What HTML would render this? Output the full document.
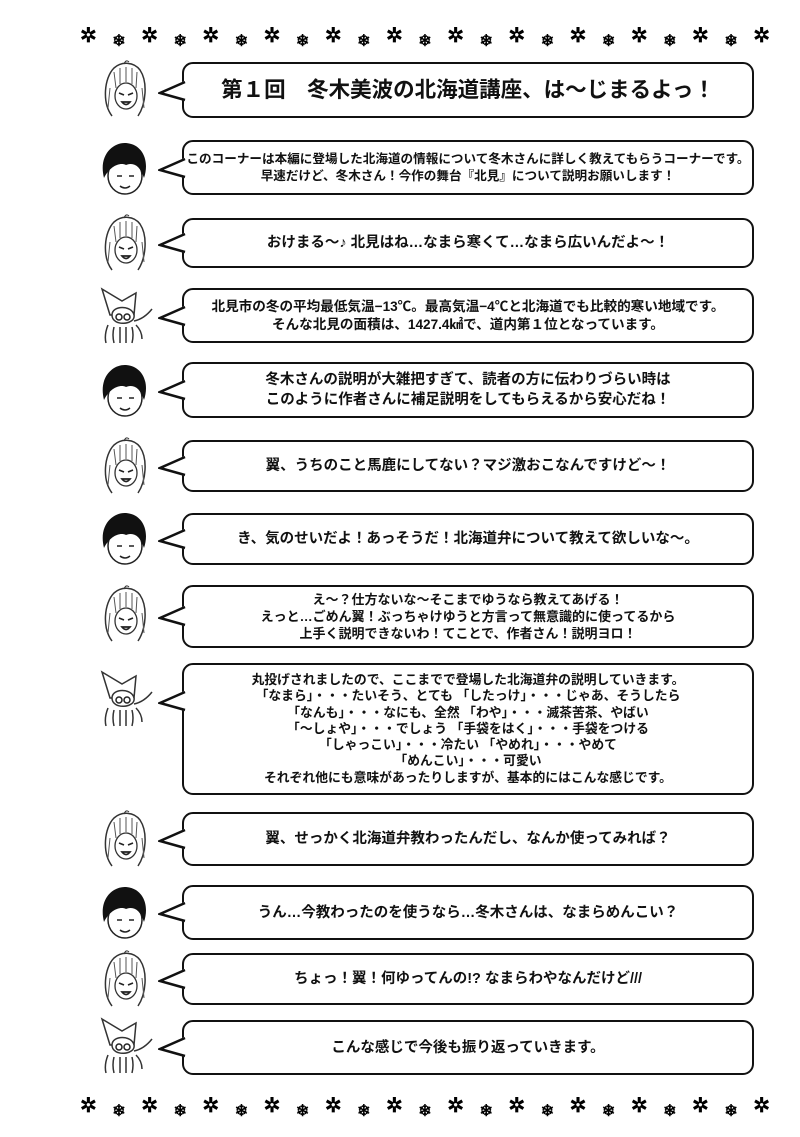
<!DOCTYPE html>
<html><head><meta charset="utf-8"><style>
body{margin:0;width:800px;height:1137px;background:#fff;position:relative;overflow:hidden;font-family:"Liberation Sans","Noto Sans CJK JP",sans-serif;color:#111}
.b{position:absolute;left:182px;width:572px;border:2.5px solid #111;border-radius:11px;background:#fff;box-sizing:border-box;display:flex;align-items:center;justify-content:center;text-align:center;font-weight:bold;font-size:14.5px;line-height:18px}
.t{position:absolute;left:158px;width:28px;height:24px}
.s{position:absolute;font-size:20px;line-height:20px;color:#000;font-weight:bold}
.s i{font-style:normal;font-size:16px;margin-top:6px}
.av{position:absolute;left:92px;width:64px;height:64px}
</style></head><body>
<svg width="0" height="0" style="position:absolute">
<defs>
<symbol id="girl" viewBox="0 0 64 64"><path d="M20 58 C10 45 12 20 22 10 C30 3 42 4 48 12 C56 24 54 46 46 58" fill="none" stroke="#333" stroke-width="1.5"/><path d="M22 14 L24 30 M28 10 L28 26 M34 9 L34 24 M40 10 L40 26 M45 14 L44 30 M18 30 L16 50 M50 30 L52 50" stroke="#555" stroke-width="1"/><ellipse cx="34" cy="38" rx="11" ry="13" fill="#fff" stroke="#333" stroke-width="1.3"/><path d="M27 35 l5 2 M41 35 l-5 2 M30 44 q4 5 8 0 z" stroke="#222" stroke-width="1.7" fill="none"/><path d="M32 6 q2 -5 5 -2" stroke="#333" fill="none"/></symbol>
<symbol id="boy" viewBox="0 0 64 64"><ellipse cx="33" cy="38" rx="17" ry="18" fill="#fff" stroke="#222" stroke-width="1.5"/><path d="M12 40 C6 16 22 4 34 5 C50 6 58 22 52 40 C48 28 42 24 34 27 C28 24 18 28 12 40Z" fill="#111"/><path d="M25 38 h5 M37 38 h5 M28 48 q5 4 10 0" stroke="#222" stroke-width="1.5" fill="none"/></symbol>
<symbol id="sq" viewBox="0 0 64 64"><path d="M18 30 L10 4 L30 16 L44 8 L42 30 Z" fill="#fff" stroke="#333" stroke-width="1.5"/><path d="M20 30 C20 20 40 20 42 30 C44 40 20 42 20 30Z" fill="#fff" stroke="#333" stroke-width="1.5"/><circle cx="27" cy="32" r="3" fill="none" stroke="#222" stroke-width="1.5"/><circle cx="35" cy="32" r="3" fill="none" stroke="#222" stroke-width="1.5"/><path d="M16 40 q-4 10 -2 18 M22 42 q-2 8 0 16 M28 42 v16 M34 42 v16 M40 42 q2 8 0 16 M44 40 q6 6 6 14 M42 36 q10 -2 18 -12" stroke="#333" stroke-width="1.5" fill="none"/></symbol>
<symbol id="tail" viewBox="0 0 28 24"><polygon points="26,2 2,14 26,22" fill="#fff"/><polyline points="27,3 2,14 27,21" fill="none" stroke="#111" stroke-width="2.5"/></symbol>
</defs></svg>

<div class="b" style="top:62px;height:56px;font-size:21.5px">第１回　冬木美波の北海道講座、は〜じまるよっ！</div>
<div class="b" style="top:140px;height:55px;font-size:12.6px;line-height:17px">このコーナーは本編に登場した北海道の情報について冬木さんに詳しく教えてもらうコーナーです。<br>早速だけど、冬木さん！今作の舞台『北見』について説明お願いします！</div>
<div class="b" style="top:218px;height:50px">おけまる〜♪ 北見はね…なまら寒くて…なまら広いんだよ〜！</div>
<div class="b" style="top:288px;height:55px;font-size:13.6px">北見市の冬の平均最低気温−13℃。最高気温−4℃と北海道でも比較的寒い地域です。<br>そんな北見の面積は、1427.4㎢で、道内第１位となっています。</div>
<div class="b" style="top:362px;height:56px;line-height:20px">冬木さんの説明が大雑把すぎて、読者の方に伝わりづらい時は<br>このように作者さんに補足説明をしてもらえるから安心だね！</div>
<div class="b" style="top:440px;height:52px">翼、うちのこと馬鹿にしてない？マジ激おこなんですけど〜！</div>
<div class="b" style="top:513px;height:52px">き、気のせいだよ！あっそうだ！北海道弁について教えて欲しいな〜。</div>
<div class="b" style="top:585px;height:63px;font-size:13px;line-height:17px">え〜？仕方ないな〜そこまでゆうなら教えてあげる！<br>えっと…ごめん翼！ぶっちゃけゆうと方言って無意識的に使ってるから<br>上手く説明できないわ！てことで、作者さん！説明ヨロ！</div>
<div class="b" style="top:663px;height:132px;font-size:12.8px;line-height:16.3px">丸投げされましたので、ここまでで登場した北海道弁の説明していきます。<br>「なまら」・・・たいそう、とても 「したっけ」・・・じゃあ、そうしたら<br>「なんも」・・・なにも、全然 「わや」・・・滅茶苦茶、やばい<br>「〜しょや」・・・でしょう 「手袋をはく」・・・手袋をつける<br>「しゃっこい」・・・冷たい 「やめれ」・・・やめて<br>「めんこい」・・・可愛い<br>それぞれ他にも意味があったりしますが、基本的にはこんな感じです。</div>
<div class="b" style="top:812px;height:54px">翼、せっかく北海道弁教わったんだし、なんか使ってみれば？</div>
<div class="b" style="top:885px;height:55px">うん…今教わったのを使うなら…冬木さんは、なまらめんこい？</div>
<div class="b" style="top:953px;height:52px">ちょっ！翼！何ゆってんの!? なまらわやなんだけど///</div>
<div class="b" style="top:1020px;height:55px">こんな感じで今後も振り返っていきます。</div>

<svg class="t" style="top:79px"><use href="#tail"/></svg>
<svg class="t" style="top:156px"><use href="#tail"/></svg>
<svg class="t" style="top:231px"><use href="#tail"/></svg>
<svg class="t" style="top:304px"><use href="#tail"/></svg>
<svg class="t" style="top:378px"><use href="#tail"/></svg>
<svg class="t" style="top:454px"><use href="#tail"/></svg>
<svg class="t" style="top:527px"><use href="#tail"/></svg>
<svg class="t" style="top:604px"><use href="#tail"/></svg>
<svg class="t" style="top:689px"><use href="#tail"/></svg>
<svg class="t" style="top:827px"><use href="#tail"/></svg>
<svg class="t" style="top:900px"><use href="#tail"/></svg>
<svg class="t" style="top:967px"><use href="#tail"/></svg>
<svg class="t" style="top:1035px"><use href="#tail"/></svg>

<svg class="av" style="top:58px"><use href="#girl"/></svg>
<svg class="av" style="top:138px"><use href="#boy"/></svg>
<svg class="av" style="top:212px"><use href="#girl"/></svg>
<svg class="av" style="top:285px"><use href="#sq"/></svg>
<svg class="av" style="top:360px"><use href="#boy"/></svg>
<svg class="av" style="top:435px"><use href="#girl"/></svg>
<svg class="av" style="top:508px"><use href="#boy"/></svg>
<svg class="av" style="top:583px"><use href="#girl"/></svg>
<svg class="av" style="top:668px"><use href="#sq"/></svg>
<svg class="av" style="top:808px"><use href="#girl"/></svg>
<svg class="av" style="top:882px"><use href="#boy"/></svg>
<svg class="av" style="top:948px"><use href="#girl"/></svg>
<svg class="av" style="top:1015px"><use href="#sq"/></svg>

<div class="s" style="top:26px;left:80px;width:690px;display:flex;justify-content:space-between"><span>✲</span><i>❄</i><span>✲</span><i>❄</i><span>✲</span><i>❄</i><span>✲</span><i>❄</i><span>✲</span><i>❄</i><span>✲</span><i>❄</i><span>✲</span><i>❄</i><span>✲</span><i>❄</i><span>✲</span><i>❄</i><span>✲</span><i>❄</i><span>✲</span><i>❄</i><span>✲</span></div>
<div class="s" style="top:1096px;left:80px;width:690px;display:flex;justify-content:space-between"><span>✲</span><i>❄</i><span>✲</span><i>❄</i><span>✲</span><i>❄</i><span>✲</span><i>❄</i><span>✲</span><i>❄</i><span>✲</span><i>❄</i><span>✲</span><i>❄</i><span>✲</span><i>❄</i><span>✲</span><i>❄</i><span>✲</span><i>❄</i><span>✲</span><i>❄</i><span>✲</span></div>
</body></html>
